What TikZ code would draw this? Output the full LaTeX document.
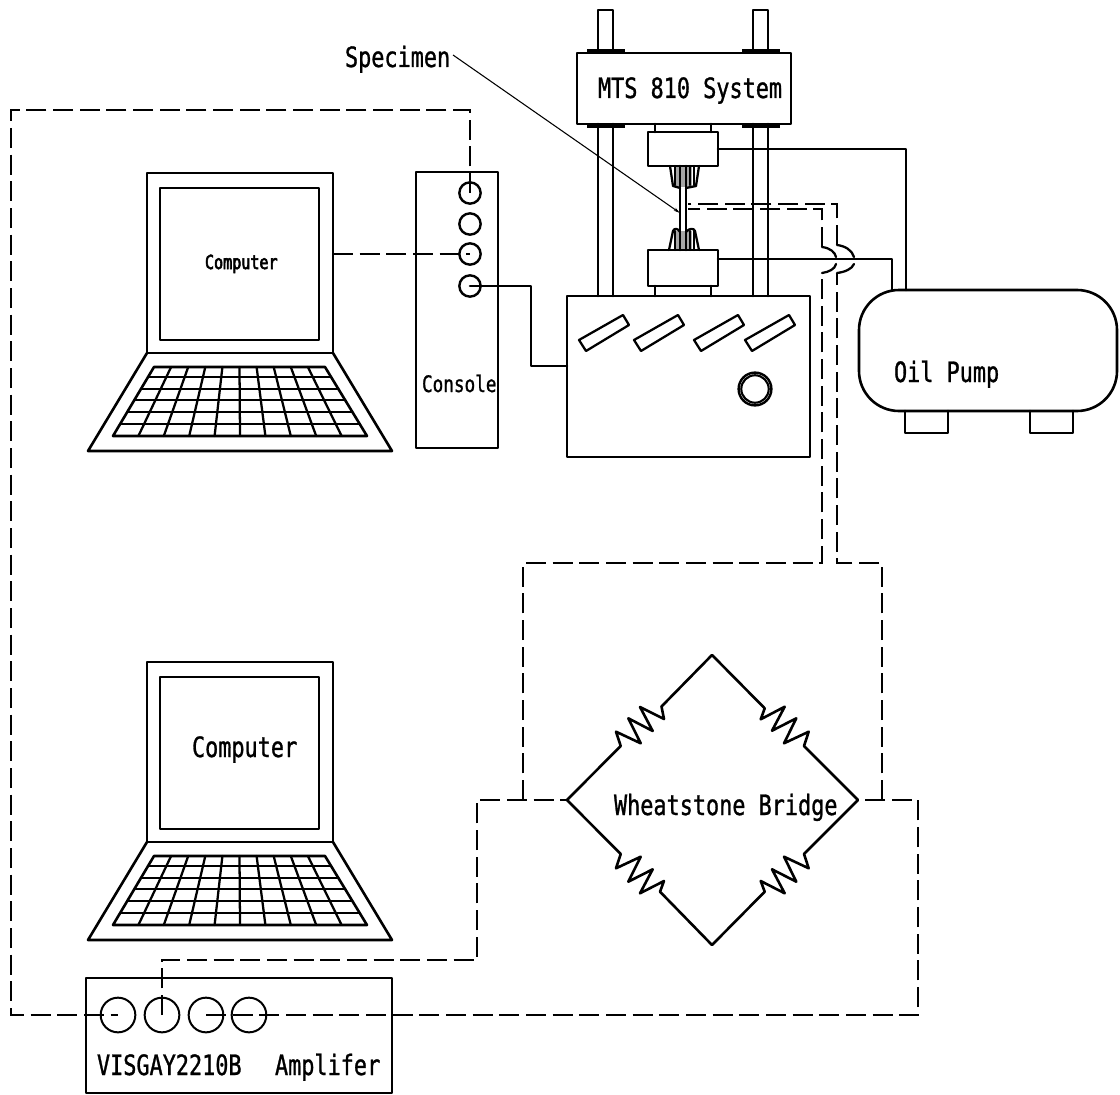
\documentclass[tikz,border=0pt]{standalone}
\usepackage{fontspec}
\usetikzlibrary{calc,arrows.meta}
\newfontfamily\cadfont[FakeStretch=0.78,FakeBold=1]{DejaVu Sans Mono}
\newfontfamily\cadsmall[FakeStretch=0.78,FakeBold=3]{DejaVu Sans Mono}
\tikzset{
  x=0.75pt,y=-0.75pt,
  solid line/.style={line width=1.95pt,line join=round,line cap=round},
  thin solid/.style={line width=1.7pt,line join=round,line cap=round},
  dashline/.style={line width=1.35pt,dash pattern=on 15pt off 5pt,line join=miter},
  port/.style={circle,draw,line width=1.8pt,inner sep=0pt,minimum size=16pt},
  ampport/.style={circle,draw,line width=1.5pt,inner sep=0pt,minimum size=26pt},
  cad/.style={anchor=base west,inner sep=0pt,outer sep=0pt,font=\cadfont\fontsize{21}{21}\selectfont},
  cad small/.style={cad,font=\cadsmall\fontsize{14.5}{15}\selectfont},
  cad mid/.style={cad,font=\cadfont\fontsize{17}{17}\selectfont},
  laptop/.pic={
    \coordinate (-r) at (333,254);
    \draw[solid line] (147,173) rectangle (333,353);
    \draw[solid line] (160,188) rectangle (319,340);
    \draw[solid line] (147,353) -- (88,451) -- (392,451) -- (333,353);
    \coordinate (-tl) at (154,367);
    \coordinate (-tr) at (325,367);
    \coordinate (-bl) at (113,436);
    \coordinate (-br) at (367,436);
    \draw[solid line] (-tl) -- (-tr) -- (-br) -- (-bl) -- cycle;
    \foreach \t in {0.145,0.32,0.48,0.65,0.825}
      \draw[thin solid] ($(-tl)!\t!(-bl)$) -- ($(-tr)!\t!(-br)$);
    \foreach \i in {1,...,9}
      \draw[thin solid] ($(-tl)!\i/10!(-tr)$) -- ($(-bl)!\i/10!(-br)$);
  }
}
\begin{document}
\begin{tikzpicture}
\useasboundingbox (0,0) rectangle (1120,1095);

% laptops
\pic (lapa) at (0,0) {laptop};
\pic (lapb) at (0,489) {laptop};
\node[cad small] (comptxt) at (205,269) {Computer};
\node[cad] (complarge) at (192,757) {Computer};

% console
\draw[solid line] (416,172) rectangle (498,448);
\node[port] (c1) at (470,193) {};
\node[port] (c2) at (470,224) {};
\node[port] (c3) at (470,254) {};
\node[port] (c4) at (470,286) {};
\node[cad mid] (consoletxt) at (422,392) {Console};

% load frame
\foreach \x in {598,753}{
  \draw[solid line] (\x,52) -- (\x,10) -- (\x+15,10) -- (\x+15,52);
  \draw[solid line] (\x,124) -- (\x,296);
  \draw[solid line] (\x+15,124) -- (\x+15,296);
  \fill (\x-11,49) rectangle (\x+27,53);
  \fill (\x-11,124) rectangle (\x+27,128);
}
\draw[solid line] (577,53) rectangle (791,124);
\node[cad] (mtstxt) at (598,98) {MTS 810 System};

% grips
\draw[solid line] (655,124) -- (655,132);
\draw[solid line] (711,124) -- (711,132);
\draw[solid line] (648,132) rectangle (718,166);
\draw[solid line] (648,250) rectangle (718,286);
\draw[solid line] (655,286) -- (655,296);
\draw[solid line] (711,286) -- (711,296);
\coordinate (gripuR) at (718,149);
\coordinate (griplR) at (718,259);

% specimen and wedges
\fill[gray!70] (674,167) rectangle (692,187);
\fill[gray!70] (674,231) rectangle (692,249);
\draw[thin solid] (670,166) -- (673,186) -- (680,188);
\draw[thin solid] (699,166) -- (696,186) -- (686,188);
\draw[thin solid] (669,250) -- (673,231) .. controls (674,228) and (678,228) .. (680,232);
\draw[thin solid] (699,250) -- (695,231) .. controls (694,228) and (689,228) .. (686,232);
\foreach \x in {675,690,694}{
  \draw[thin solid] (\x,166) -- (\x,185);
  \draw[thin solid] (\x,231) -- (\x,250);
}
\draw[solid line] (680,166) -- (680,250);
\draw[solid line] (686,166) -- (686,250);
\coordinate (spa) at (688,204);
\coordinate (spb) at (688,209);
\coordinate (sptip) at (680,213);

% specimen leader
\node[cad] (spectxt) at (345,67) {Specimen};
\coordinate (leadstart) at (453,55);
\draw[line width=0.8pt,-{Stealth[length=5pt,width=2.5pt]}] (leadstart) -- (sptip);

% base
\draw[solid line] (567,296) rectangle (810,457);
\foreach \x in {579,634,694,745}
  \draw[solid line,line width=1.7pt] (\x,340) -- (\x+44,315) -- (\x+50,325) -- (\x+7,351) -- cycle;
\draw[line width=1.8pt] (755,389) circle[radius=12.3pt];
\draw[line width=1.6pt] (755,389) circle[radius=10.3pt];
\coordinate (baseL) at (567,366);

% oil pump
\draw[solid line] (899,290) -- (1077,290) arc[start angle=90,end angle=0,radius=30pt] -- (1117,371)
  arc[start angle=0,end angle=-90,radius=30pt] -- (899,411)
  arc[start angle=270,end angle=180,radius=30pt] -- (859,330)
  arc[start angle=180,end angle=90,radius=30pt];
\draw[solid line] (905,411) -- (905,433) -- (948,433) -- (948,411);
\draw[solid line] (1030,411) -- (1030,433) -- (1073,433) -- (1073,411);
\node[cad] (oiltxt) at (894,382) {Oil Pump};
\coordinate (pumpa) at (906,290);
\coordinate (pumpb) at (892,290);

% hydraulic / control solid connectors
\draw[solid line] (gripuR) -| (pumpa);
\draw[solid line] (griplR) -| (pumpb);
\draw[solid line] (c4.center) -- (531,286) -- (531,366) -- (baseL);

% bridge
\coordinate (bT) at (712,655);
\coordinate (bL) at (567,800);
\coordinate (bR) at (858,800);
\coordinate (bB) at (712,945);
\draw[solid line] (bT) -- (661.5,706.5) -- (664,719) -- (640,707) -- (652.7,731) -- (628.3,718.3) -- (640.7,743.3) -- (616,731.7) -- (620.7,746) -- (bL);
\draw[solid line] (bT) -- (764.7,708.3) -- (760.7,719.3) -- (784.7,706.7) -- (772,730.7) -- (796.3,718.3) -- (784,743.3) -- (808.7,731.7) -- (804,746) -- (bR);
\draw[solid line] (bB) -- (660,891.7) -- (664,881) -- (640,893.3) -- (652.7,869.3) -- (628.3,881.7) -- (640.7,856.7) -- (616,868.3) -- (620.7,854) -- (bL);
\draw[solid line] (bB) -- (764.7,891.7) -- (760.7,881) -- (784.7,893.3) -- (772,869.3) -- (796.3,881.7) -- (784,856.7) -- (808.7,868.3) -- (804,854) -- (bR);
\node[cad] (wbtxt) at (614,815) {Wheatstone Bridge};

% amplifier
\draw[solid line] (86,978) -- (392,978) -- (392,1093) -- (86,1093) -- cycle;
\node[ampport] (a1) at (118,1015) {};
\node[ampport] (a2) at (162,1015) {};
\node[ampport] (a3) at (206,1015) {};
\node[ampport] (a4) at (249,1015) {};
\node[cad] (vistxt) at (97,1075) {VISGAY2210B};
\node[cad] (amptxt) at (275,1075) {Amplifer};

% dashed connectors
\draw[dashline] (lapa-r) -- (c3.center);
\draw[dashline] (c1.center) -- (470,110) -- (11,110) -- (11,1015) -- (a1.center);
\draw[dashline] (a2.center) -- (162,960) -- (477,960) -- (477,800) -- (bL);
\draw[dashline] (a3.center) -- (918,1015) -- (918,800) -- (bR);
\draw[dashline] (523,800) -- (523,563) -- (822,563) -- (822,273);
\draw[dashline] (882,800) -- (882,563) -- (837,563) -- (837,273);
\draw[dashline] (822,247) -- (822,209) -- (spb);
\draw[dashline] (837,245) -- (837,204) -- (spa);
% jumps over the hydraulic line
\draw[thin solid] (822,247) .. controls (830,248) and (835,252) .. (836,257);
\draw[thin solid] (836,264) .. controls (835,269) and (829,272) .. (822,273);
\draw[thin solid] (837,245) .. controls (845,246) and (852,250) .. (854,257);
\draw[thin solid] (854,264) .. controls (852,269) and (845,272) .. (837,273);
\end{tikzpicture}
\end{document}
